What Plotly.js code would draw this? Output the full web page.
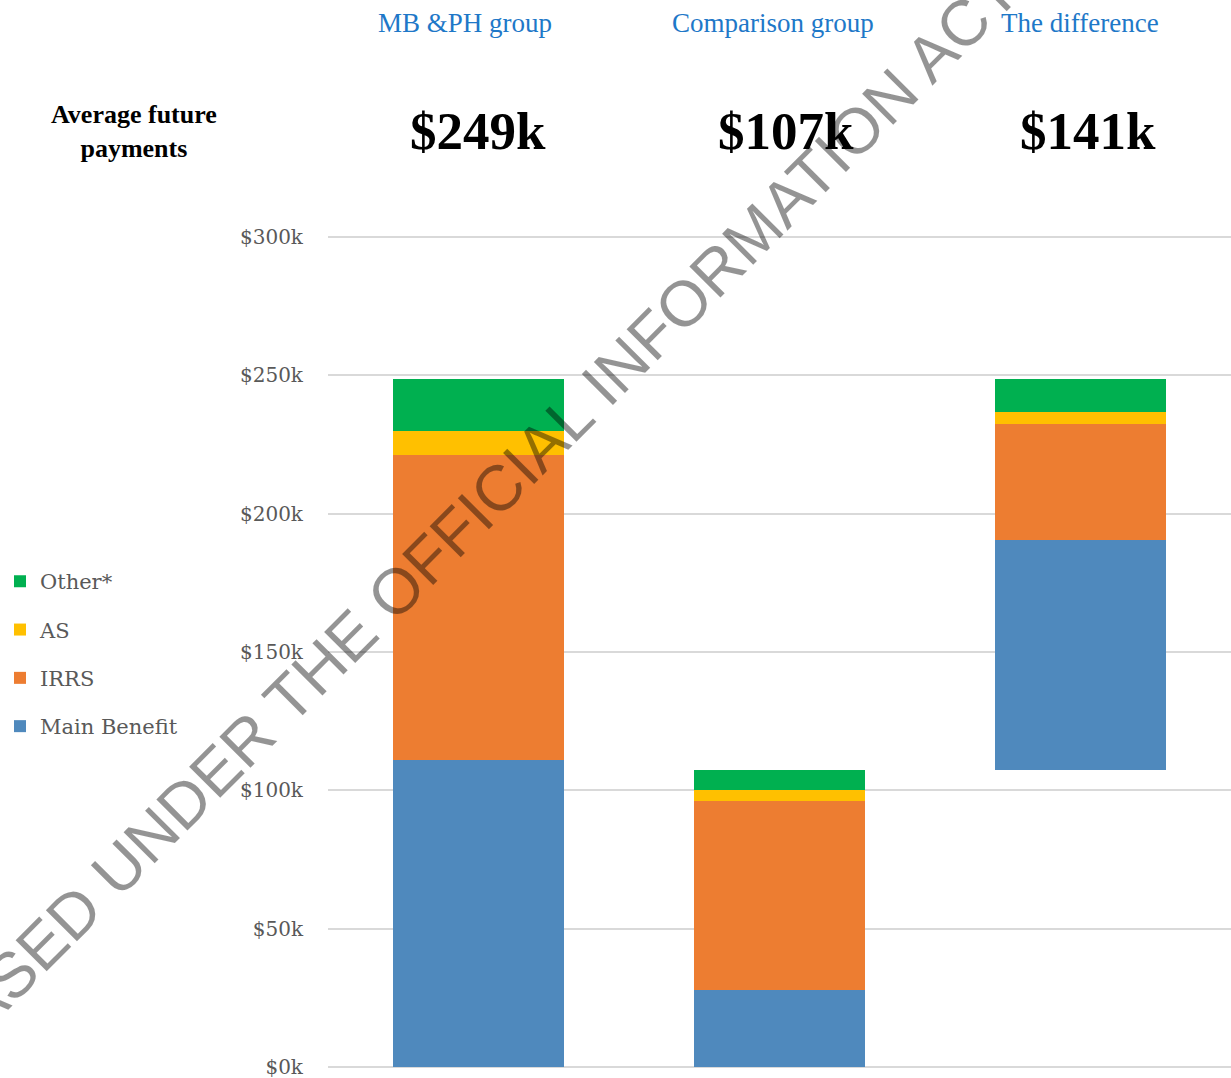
<!DOCTYPE html>
<html>
<head>
<meta charset="utf-8">
<script src="https://cdn.plot.ly/plotly-3.0.1.min.js"></script>
<style>
  html, body { margin: 0; padding: 0; background: #ffffff; }
  #chart { width: 1231px; height: 1078px; }
</style>
</head>
<body>
<div id="chart"></div>
<script>
// Categories (column headers)
const categories = ["MB &PH group", "Comparison group", "The difference"];

// Stacked segment values, in $k
const baseOffset  = [0, 0, 107.2];          // invisible floating base for "The difference"
const mainBenefit = [111.0, 27.8, 83.2];
const irrs        = [110.2, 68.4, 41.8];
const asValues    = [8.5, 3.9, 4.4];
const other       = [18.8, 7.1, 11.9];

// Headline totals, in $k
const totalLabels = [249, 107, 141];

// Axis ticks
const yTicks = [0, 50, 100, 150, 200, 250, 300];

const seriesNames  = ["Main Benefit", "IRRS", "AS", "Other*"];
const seriesValues = [mainBenefit, irrs, asValues, other];
const seriesColors = ["#4F89BD", "#ED7D31", "#FFC000", "#00B050"];
const legendRanks  = [4, 3, 2, 1];

const traces = [{
  type: "bar",
  x: categories,
  y: baseOffset,
  marker: { color: "rgba(0,0,0,0)" },
  showlegend: false,
  hoverinfo: "skip",
  name: "base"
}];
seriesNames.forEach((n, i) => {
  traces.push({
    type: "bar",
    x: categories,
    y: seriesValues[i],
    name: n,
    legendgroup: "g" + i,
    legendrank: legendRanks[i],
    marker: { color: seriesColors[i], line: { width: 0 } }
  });
});

const serif = "DejaVu Serif, serif";
const times = "Liberation Serif, Times New Roman, serif";

const annotations = [];
categories.forEach((c, i) => {
  annotations.push({
    xref: "x", yref: "paper", x: c, y: 1.2524,
    xshift: [-14, -7, -1][i],
    text: c, showarrow: false, xanchor: "center", yanchor: "middle",
    font: { family: times, size: 27, color: "#1E78C8" }
  });
  annotations.push({
    xref: "x", yref: "paper", x: c, y: 1.1232,
    xshift: [-1, 6, 7][i],
    text: "<b>$" + totalLabels[i] + "k</b>", showarrow: false,
    xanchor: "center", yanchor: "middle",
    font: { family: times, size: 53, color: "#000000" }
  });
});
annotations.push({
  xref: "paper", yref: "paper", x: -0.2148, y: 1.1232,
  text: "<b>Average future<br>payments</b>", showarrow: false,
  xanchor: "center", yanchor: "middle", align: "center",
  font: { family: times, size: 26, color: "#000000" }
});
// Watermark
annotations.push({
  xref: "paper", yref: "paper", x: 0.1107, y: 0.6112,
  text: "RELEASED UNDER THE OFFICIAL INFORMATION ACT",
  showarrow: false, textangle: -45, xanchor: "center", yanchor: "middle",
  font: { family: "Liberation Sans, Arial, sans-serif", size: 64, color: "rgba(0,0,0,0.42)" }
});

const layout = {
  width: 1231, height: 1078,
  margin: { l: 328, r: 0, t: 234, b: 8, pad: 0 },
  paper_bgcolor: "#ffffff", plot_bgcolor: "#ffffff",
  barmode: "stack",
  bargap: 0.429,
  showlegend: true,
  legend: {
    xref: "container", yref: "container",
    x: 0.0, y: 0.4795, xanchor: "left", yanchor: "top",
    traceorder: "grouped",
    tracegroupgap: 18,
    bgcolor: "rgba(0,0,0,0)",
    font: { family: serif, size: 21, color: "#595959" }
  },
  xaxis: {
    showticklabels: false, showgrid: false, zeroline: false, showline: false,
    fixedrange: true
  },
  yaxis: {
    range: [-1, 301],
    tickvals: yTicks,
    ticktext: yTicks.map(v => "$" + v + "k"),
    showgrid: true, gridcolor: "#d9d9d9", gridwidth: 2,
    zeroline: true, zerolinecolor: "#d9d9d9", zerolinewidth: 2,
    showline: false,
    ticks: "", ticklabelstandoff: 24,
    ticklabeloverflow: "allow",
    tickfont: { family: serif, size: 20, color: "#595959" },
    fixedrange: true
  },
  annotations: annotations
};

Plotly.newPlot("chart", traces, layout, { displayModeBar: false, staticPlot: true });
</script>
</body>
</html>
